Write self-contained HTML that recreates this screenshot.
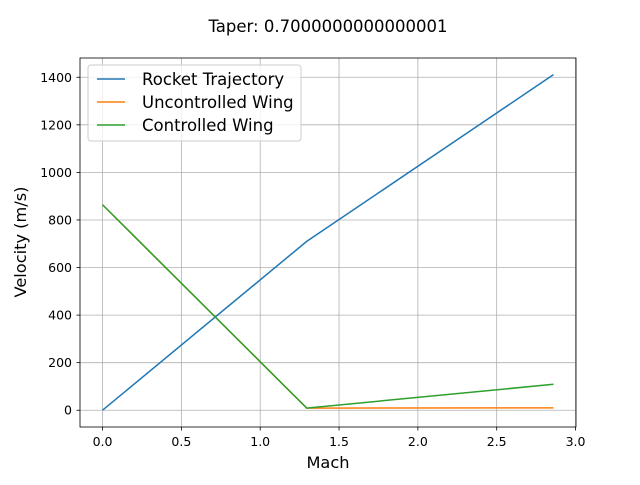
<!DOCTYPE html>
<html><head><meta charset="utf-8"><style>
body{margin:0;background:#fff;font-family:"Liberation Sans","DejaVu Sans",sans-serif;}
svg text{font-family:"DejaVu Sans","Liberation Sans",sans-serif;}
</style></head><body>
<svg id="chart" width="640" height="480" xmlns="http://www.w3.org/2000/svg">
<rect width="640" height="480" fill="#fff"/>
<text x="328" y="32" font-size="16.5" text-anchor="middle">Taper: 0.7000000000000001</text>
<g id="grid"></g>
<g id="series"></g>
<rect x="80" y="58" width="496" height="369" fill="none" stroke="#000" stroke-width="0.8"/>
<g id="ticks"></g>
<text x="328" y="468" font-size="16.2" text-anchor="middle">Mach</text>
<text x="26" y="242" font-size="16.2" text-anchor="middle" transform="rotate(-90 26 242)">Velocity (m/s)</text>
<g>
<rect x="88" y="65" width="213" height="76" rx="3" fill="#fff" fill-opacity="0.8" stroke="#ccc"/>
<line x1="97" y1="79" x2="125" y2="79" stroke="#1f77b4" stroke-width="1.5"/>
<text x="142" y="85" font-size="16.5">Rocket Trajectory</text>
<line x1="97" y1="102" x2="125" y2="102" stroke="#ff7f0e" stroke-width="1.5"/>
<text x="142" y="108" font-size="16.5">Uncontrolled Wing</text>
<line x1="97" y1="125" x2="125" y2="125" stroke="#2ca02c" stroke-width="1.5"/>
<text x="142" y="131" font-size="16.5">Controlled Wing</text>
</g>
</svg>
<script>
const xTicks=[0,0.5,1.0,1.5,2.0,2.5,3.0];
const xTickLabels=["0.0","0.5","1.0","1.5","2.0","2.5","3.0"];
const yTicks=[0,200,400,600,800,1000,1200,1400];
const machPts=[0,1.295,2.86];
const rocketVel=[0,710,1411];
const uncontrolledVel=[864,9,10];
const controlledVel=[864,9,109];
const NS="http://www.w3.org/2000/svg";
const L=80,R=576,T=58,B=427;
const xmin=-0.143,xmax=3.003,ymin=-70.5,ymax=1481;
const sx=v=>L+(v-xmin)/(xmax-xmin)*(R-L);
const sy=v=>B-(v-ymin)/(ymax-ymin)*(B-T);
function mk(tag,attrs,parent){const e=document.createElementNS(NS,tag);for(const k in attrs)e.setAttribute(k,attrs[k]);parent.appendChild(e);return e;}
const grid=document.getElementById('grid'),ticks=document.getElementById('ticks'),series=document.getElementById('series');
xTicks.forEach((t,i)=>{const x=sx(t);
 const g=mk('line',{x1:x,x2:x,y1:T,y2:B,stroke:'#b0b0b0','stroke-width':0.8},grid);
 
 
 mk('line',{x1:x,x2:x,y1:B,y2:B+3.5,stroke:'#000','stroke-width':0.8},ticks);
 const tx=mk('text',{x:x,y:B+19,'font-size':12.5,'text-anchor':'middle'},ticks);tx.textContent=xTickLabels[i];
 
 
});
yTicks.forEach(t=>{const y=sy(t);
 const g=mk('line',{x1:L,x2:R,y1:y,y2:y,stroke:'#b0b0b0','stroke-width':0.8},grid);
 
 
 mk('line',{x1:L-3.5,x2:L,y1:y,y2:y,stroke:'#000','stroke-width':0.8},ticks);
 const tx=mk('text',{x:L-8,y:y+4.5,'font-size':12.5,'text-anchor':'end'},ticks);tx.textContent=String(t);
 
 
});
function line(vals,color,name){
 const p=mk('polyline',{points:machPts.map((m,i)=>sx(m)+','+sy(vals[i])).join(' '),fill:'none',stroke:color,'stroke-width':1.5},series);
 
 
}
line(rocketVel,'#1f77b4','rocket-trajectory-line');
line(uncontrolledVel,'#ff7f0e','uncontrolled-wing-line');
line(controlledVel,'#2ca02c','controlled-wing-line');
</script>
</body></html>
